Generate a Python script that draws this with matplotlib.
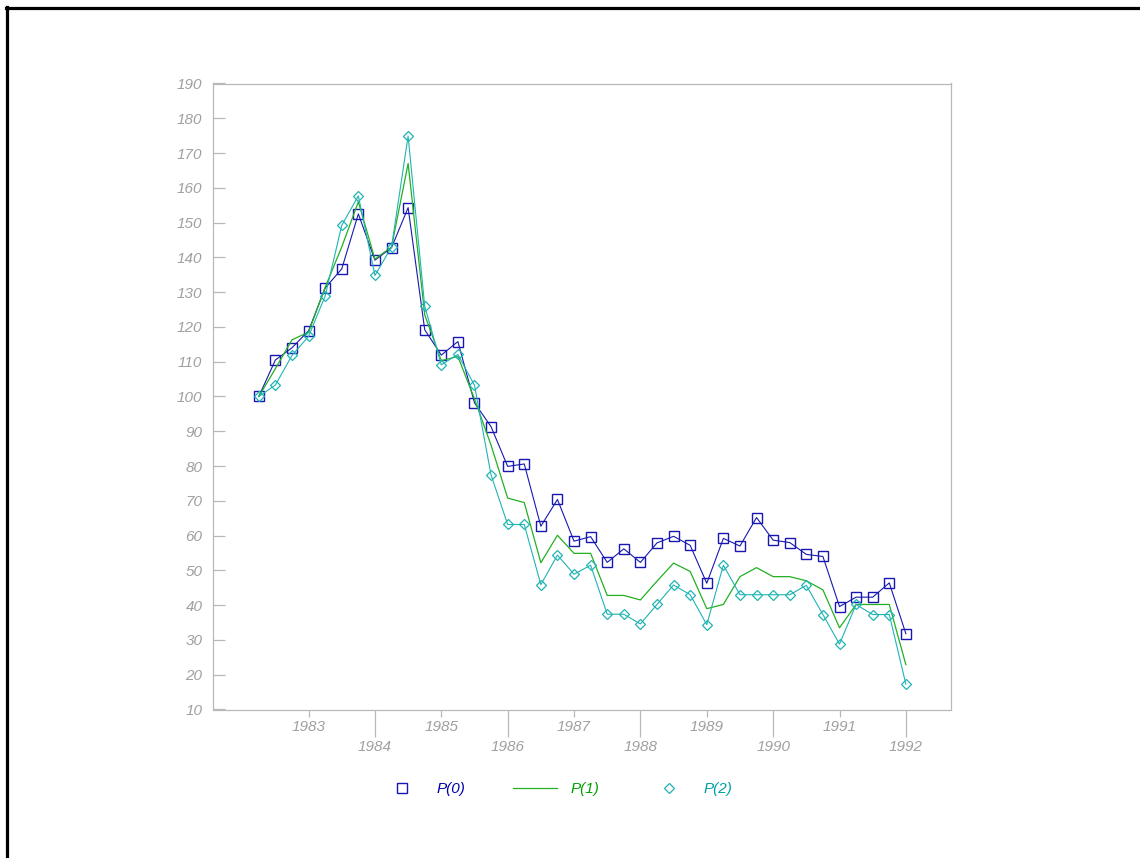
import numpy as np
import matplotlib
matplotlib.use("Agg")
from matplotlib import pyplot as plt
from matplotlib.lines import Line2D

# quarterly observations, 1982Q2 .. 1992Q1
quarters = 1982 + np.arange(1, 41) / 4

p0 = [100.0, 110.5, 114.0, 118.9, 131.2, 136.7, 152.5, 139.2, 142.8, 154.3,
      119.2, 111.9, 115.8, 98.2, 91.3, 79.9, 80.6, 62.7, 70.4, 58.4,
      59.7, 52.3, 56.2, 52.3, 57.9, 59.8, 57.2, 46.3, 59.2, 57.0,
      65.2, 58.7, 58.0, 54.6, 54.0, 39.6, 42.3, 42.3, 46.4, 31.8]
p1 = [100.0, 108.0, 116.3, 118.5, 131.4, 143.0, 156.0, 139.5, 143.0, 167.0,
      123.5, 110.3, 111.5, 99.3, 86.0, 70.8, 69.5, 52.2, 60.1, 54.9,
      54.9, 42.8, 42.8, 41.5, 46.9, 52.1, 49.7, 39.0, 40.2, 48.2,
      50.8, 48.2, 48.2, 47.0, 44.4, 33.5, 40.2, 40.2, 40.2, 22.9]
p2 = [100.0, 103.3, 111.8, 117.3, 128.9, 149.2, 157.7, 134.8, 143.0, 174.9,
      126.0, 109.1, 112.1, 103.2, 77.4, 63.2, 63.2, 45.9, 54.4, 48.9,
      51.5, 37.4, 37.4, 34.6, 40.2, 45.8, 43.0, 34.4, 51.5, 43.0,
      43.0, 43.0, 43.0, 45.7, 37.3, 28.8, 40.2, 37.3, 37.3, 17.3]

series_names = ["P(0)", "P(1)", "P(2)"]
line_colors = ["#1818b0", "#22b022", "#20b4b4"]
text_colors = ["#0000a8", "#00a000", "#00a0a0"]

odd_years = [1983, 1985, 1987, 1989, 1991]
even_years = [1984, 1986, 1988, 1990, 1992]
y_ticks = list(range(10, 200, 10))

W, H = 1140, 858
grey = "#a0a0a0"
spine_grey = "#b8b8b8"
plt.rcParams["font.family"] = ["Liberation Sans", "DejaVu Sans"]

fig = plt.figure(figsize=(W / 100, H / 100), dpi=100)
ax = fig.add_axes([213 / W, 1 - 709.5 / H, (951 - 213) / W, (709.5 - 83.5) / H])

ax.plot(quarters, p0, color=line_colors[0], lw=0.8, marker="s", ms=7.6,
        mfc="none", mec=line_colors[0], mew=1.0)
ax.plot(quarters, p1, color=line_colors[1], lw=0.9)
ax.plot(quarters, p2, color=line_colors[2], lw=0.8, marker="D", ms=4.8,
        mfc="none", mec=line_colors[2], mew=0.9)

ax.set_xlim(1981.56, 1992.68)
ax.set_ylim(10, 190)

for s in ax.spines.values():
    s.set_color(spine_grey)
    s.set_linewidth(0.9)

ax.set_yticks(y_ticks)
ax.set_yticklabels([str(v) for v in y_ticks])
ax.tick_params(axis="y", direction="in", length=8.6, width=0.9, color=spine_grey,
               pad=7.6, labelsize=11, labelcolor=grey)
for lab in ax.get_yticklabels():
    lab.set_fontstyle("italic")

# staggered year labels: odd years short ticks, even years long ticks
ax.set_xticks(odd_years)
ax.set_xticklabels([str(y) for y in odd_years])
ax.set_xticks(even_years, minor=True)
ax.set_xticklabels([str(y) for y in even_years], minor=True)
ax.tick_params(axis="x", which="major", direction="out", length=5, width=0.9,
               color=spine_grey, pad=2.4, labelsize=11, labelcolor=grey)
ax.tick_params(axis="x", which="minor", direction="out", length=19.4, width=0.9,
               color=spine_grey, pad=2.4, labelsize=11, labelcolor=grey)
for lab in ax.get_xticklabels() + ax.get_xticklabels(minor=True):
    lab.set_fontstyle("italic")

handles = [
    Line2D([], [], ls="none", marker="s", ms=7, mfc="none", mec=line_colors[0], mew=1.0),
    Line2D([], [], color=line_colors[1], lw=0.9),
    Line2D([], [], ls="none", marker="D", ms=5, mfc="none", mec=line_colors[2], mew=0.9),
]
leg = fig.legend(handles, series_names, loc="center", ncol=3, frameon=False,
                 bbox_to_anchor=(556 / W, 1 - 789 / H), handlelength=2.9,
                 handletextpad=0.85, columnspacing=3.1,
                 prop={"size": 11, "style": "italic"})
for txt, c in zip(leg.get_texts(), text_colors):
    txt.set_color(c)

# black frame on the top and left edge of the picture
fig.add_artist(Line2D([7.3 / W, 7.3 / W], [0, 1 - 8.3 / H + 1.5 / H],
                      transform=fig.transFigure, color="black", lw=2.3))
fig.add_artist(Line2D([7.3 / W - 1.5 / W, 1], [1 - 8.3 / H, 1 - 8.3 / H],
                      transform=fig.transFigure, color="black", lw=2.3))

fig.savefig("out.png", dpi=100)
